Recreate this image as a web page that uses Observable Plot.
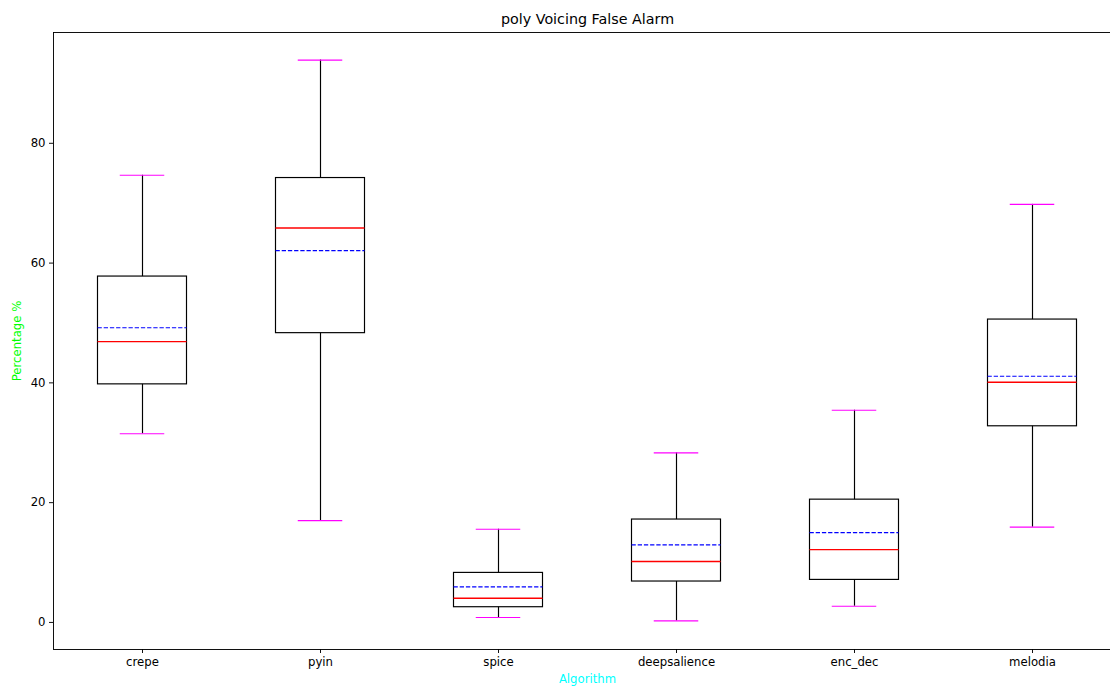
<!DOCTYPE html>
<html>
<head>
<meta charset="utf-8">
<script src="https://cdn.jsdelivr.net/npm/d3@7"></script>
<script src="https://cdn.jsdelivr.net/npm/@observablehq/plot@0.6"></script>
<style>
  html, body { margin: 0; padding: 0; background: #fff; overflow: hidden; }
  #chart { width: 1110px; height: 686px; overflow: hidden; }
  #chart svg { display: block; max-width: none !important; }
</style>
</head>
<body>
<div id="chart"></div>
<script>
const algorithms  = ["crepe", "pyin", "spice", "deepsalience", "enc_dec", "melodia"];
const whiskerLow  = [31.5, 17.0, 0.82, 0.25, 2.7, 15.9];
const quartile1   = [39.75, 48.3, 2.54, 6.83, 7.1, 32.75];
const medians     = [46.9, 65.86, 4.04, 10.17, 12.17, 40.1];
const means       = [49.2, 62.09, 5.93, 12.94, 15.0, 41.1];
const quartile3   = [57.75, 74.2, 8.27, 17.18, 20.5, 50.57];
const whiskerHigh = [74.66, 93.9, 15.56, 28.3, 35.43, 69.8];
const yTicks      = [0, 20, 40, 60, 80];

const rows = algorithms.map((name, i) => ({
  name, pos: i + 1,
  lo: whiskerLow[i], q1: quartile1[i], med: medians[i],
  mean: means[i], q3: quartile3[i], hi: whiskerHigh[i]
}));

const half = 0.25;
const capHalf = 0.125;
const xDomain = [0.5, algorithms.length + 0.5];
const yDomain = [-4.52, 98.5];
const lw = 1.17;
const spine = { stroke: "#000", strokeWidth: 0.94 };
const font = "DejaVu Sans, sans-serif";

const chart = Plot.plot({
  width: 1124,
  height: 686,
  marginTop: 32,
  marginBottom: 37,
  marginLeft: 53,
  marginRight: 0,
  style: { fontFamily: font, fontSize: "11.7px", color: "#000", background: "#fff", maxWidth: "none" },
  x: { domain: xDomain, range: [53, 1121] },
  y: { domain: yDomain },
  marks: [
    Plot.ruleY([yDomain[1], yDomain[0]], { ...spine, x1: xDomain[0], x2: xDomain[1] }),
    Plot.ruleX([xDomain[0]], spine),
    Plot.axisY({ ticks: yTicks, tickSize: 4, tickPadding: 4, label: null, ...spine }),
    Plot.axisX({ ticks: rows.map(d => d.pos), tickFormat: p => algorithms[p - 1], tickSize: 4, tickPadding: 4, label: null, ...spine }),
    Plot.rect(rows, { x1: d => d.pos - half, x2: d => d.pos + half, y1: "q1", y2: "q3", fill: "none", stroke: "#000", strokeWidth: lw }),
    Plot.ruleY(rows, { y: "med", x1: d => d.pos - half, x2: d => d.pos + half, stroke: "red", strokeWidth: 1.3 }),
    Plot.ruleY(rows, { y: "mean", x1: d => d.pos - half, x2: d => d.pos + half, stroke: "blue", strokeWidth: lw, strokeDasharray: "4.3,1.9" }),
    Plot.ruleX(rows, { x: "pos", y1: "lo", y2: "q1", stroke: "#000", strokeWidth: lw }),
    Plot.ruleX(rows, { x: "pos", y1: "q3", y2: "hi", stroke: "#000", strokeWidth: lw }),
    Plot.ruleY(rows, { y: "lo", x1: d => d.pos - capHalf, x2: d => d.pos + capHalf, stroke: "magenta", strokeWidth: lw }),
    Plot.ruleY(rows, { y: "hi", x1: d => d.pos - capHalf, x2: d => d.pos + capHalf, stroke: "magenta", strokeWidth: lw }),
    Plot.text(["poly Voicing False Alarm"], { x: (xDomain[0] + xDomain[1]) / 2, frameAnchor: "top", lineAnchor: "middle", dy: -13, fontSize: 14.3, fill: "#000" }),
    Plot.text(["Algorithm"], { x: (xDomain[0] + xDomain[1]) / 2, frameAnchor: "bottom", lineAnchor: "middle", dy: 30, fontSize: 11.7, fill: "cyan" }),
    Plot.text(["Percentage %"], { frameAnchor: "left", textAnchor: "middle", lineAnchor: "middle", dx: -36, rotate: -90, fontSize: 11.7, fill: "lime" })
  ]
});

document.getElementById("chart").appendChild(chart);
</script>
</body>
</html>
